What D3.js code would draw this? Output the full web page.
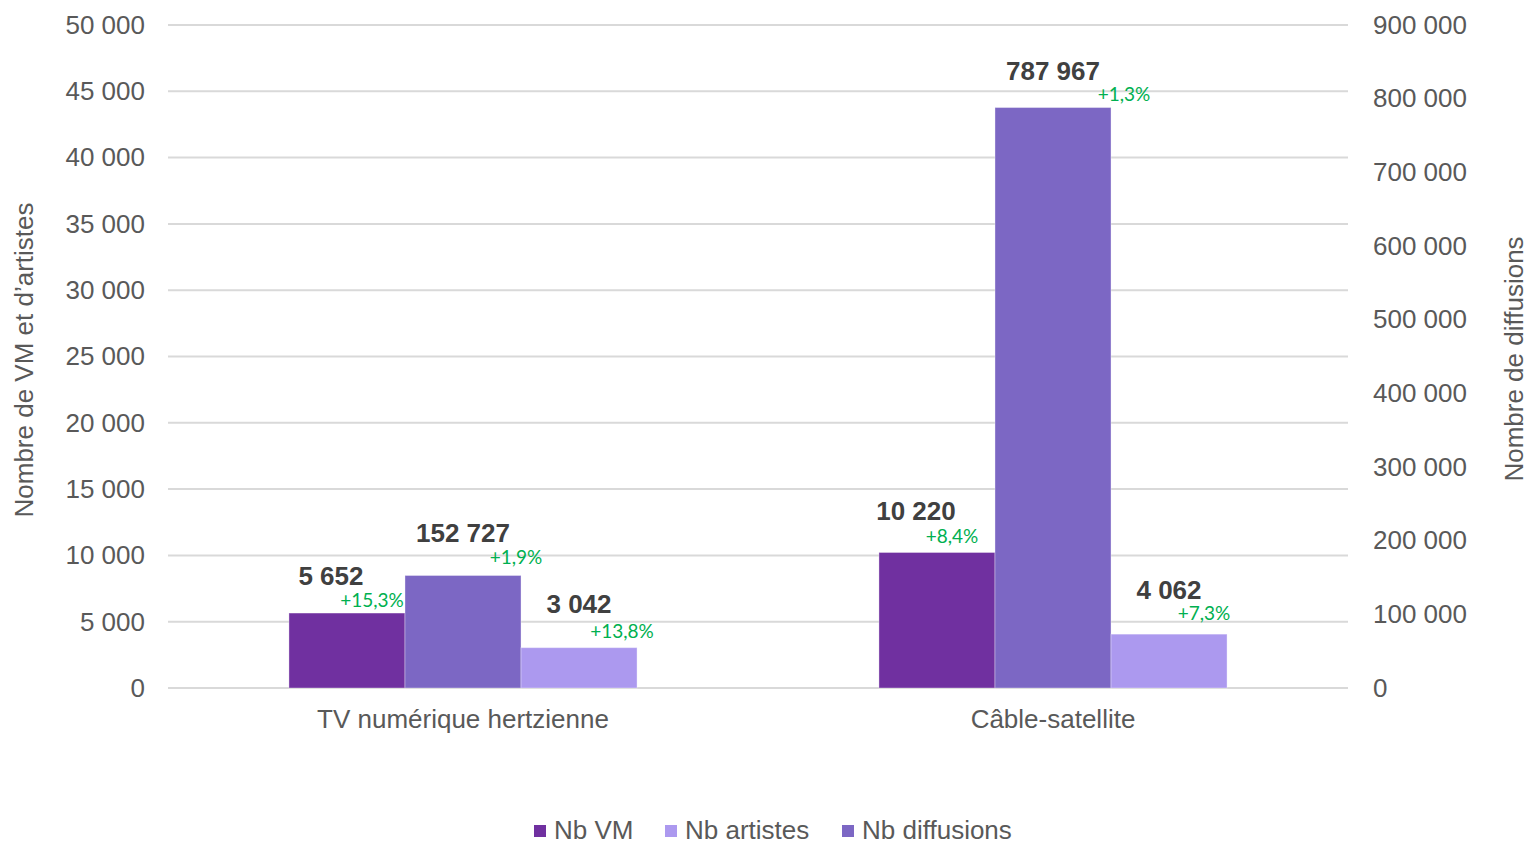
<!DOCTYPE html>
<html><head><meta charset="utf-8">
<script src="https://cdn.jsdelivr.net/npm/d3@7"></script>
<style>html,body{margin:0;padding:0;background:#fff}svg{display:block}</style>
</head><body><svg id="c" width="1529" height="847"></svg>
<script>
const categories = ["TV numérique hertzienne", "Câble-satellite"];
const nbVM = [5652, 10220];
const nbArtistes = [3042, 4062];
const nbDiffusions = [152727, 787967];
const evolVM = ["+15,3%", "+8,4%"];
const evolArtistes = ["+13,8%", "+7,3%"];
const evolDiffusions = ["+1,9%", "+1,3%"];
const leftTicks = [0, 5000, 10000, 15000, 20000, 25000, 30000, 35000, 40000, 45000, 50000];
const rightTicks = [0, 100000, 200000, 300000, 400000, 500000, 600000, 700000, 800000, 900000];
const legendNames = ["Nb VM", "Nb artistes", "Nb diffusions"];

const series = [
  {key: "Nb VM", values: nbVM, evol: evolVM, axis: "left", color: "#7030A0"},
  {key: "Nb diffusions", values: nbDiffusions, evol: evolDiffusions, axis: "right", color: "#7C67C4"},
  {key: "Nb artistes", values: nbArtistes, evol: evolArtistes, axis: "left", color: "#AC99EF"}
];
// manual label nudges (layout only): [valueDx, valueDy, evolDx, evolDy] per series per category
const nudges = {
  "Nb VM": [[-16, 4, 25, 3], [-21, -1, 15, 0]],
  "Nb diffusions": [[0, -2, 53, -2], [0, 4, 71, 3]],
  "Nb artistes": [[0, -3, 43, 0], [0, -3, 35, -5]]
};

const svg = d3.select("#c");
const L = 168, R = 1348, T = 25, B = 688;
const font = "'Liberation Sans', Arial, sans-serif";
const fr = d3.formatLocale({decimal: ",", thousands: "\u00a0", grouping: [3], currency: ["", "€"]});
const fmt = fr.format(",d");

const x0 = d3.scaleBand().domain(categories).range([L, R]).paddingInner(0.41).paddingOuter(0.205);
const x1 = d3.scaleBand().domain(series.map(s => s.key)).range([0, x0.bandwidth()]);
const yL = d3.scaleLinear().domain([0, 50000]).range([B, T]);
const yR = d3.scaleLinear().domain([0, 900000]).range([B, T]);

// gridlines
svg.append("g").selectAll("line").data(leftTicks).join("line")
  .attr("x1", L).attr("x2", R).attr("y1", d => yL(d)).attr("y2", d => yL(d))
  .attr("stroke", "#D9D9D9").attr("stroke-width", 2);

// left axis
const gl = svg.append("g").attr("transform", `translate(${L},0)`)
  .call(d3.axisLeft(yL).tickValues(leftTicks).tickFormat(fmt).tickSize(0).tickPadding(23));
gl.select(".domain").remove();
gl.selectAll("text").attr("font-family", font).attr("font-size", 26).attr("fill", "#595959");

// right axis
const gr = svg.append("g").attr("transform", `translate(${R},0)`)
  .call(d3.axisRight(yR).tickValues(rightTicks).tickFormat(fmt).tickSize(0).tickPadding(25));
gr.select(".domain").remove();
gr.selectAll("text").attr("font-family", font).attr("font-size", 26).attr("fill", "#595959");

// bars
const groups = svg.append("g").selectAll("g").data(categories).join("g")
  .attr("transform", d => `translate(${x0(d)},0)`);

groups.each(function(cat, ci) {
  const g = d3.select(this);
  series.forEach(s => {
    const y = s.axis === "left" ? yL : yR;
    const v = s.values[ci];
    const xb = x1(s.key), w = x1.bandwidth();
    g.append("rect").attr("x", xb).attr("y", y(v)).attr("width", w).attr("height", B - y(v))
      .attr("fill", s.color).attr("stroke", "#ffffff").attr("stroke-opacity", 0.35).attr("stroke-width", 1);
    const n = nudges[s.key][ci];
    g.append("text").attr("x", xb + w / 2 + n[0]).attr("y", y(v) - 41 + n[1])
      .attr("dy", "0.35em").attr("text-anchor", "middle")
      .attr("font-family", font).attr("font-size", 26).attr("font-weight", "bold").attr("fill", "#404040")
      .text(fmt(v));
    g.append("text").attr("x", xb + w / 2 + n[2]).attr("y", y(v) - 16 + n[3])
      .attr("dy", "0.35em").attr("text-anchor", "middle")
      .attr("font-family", "Lato, 'Open Sans', sans-serif").attr("font-size", 19).attr("fill", "#00B050")
      .text(s.evol[ci]);
  });
});

// category labels
svg.append("g").selectAll("text").data(categories).join("text")
  .attr("x", d => x0(d) + x0.bandwidth() / 2).attr("y", 719).attr("dy", "0.35em")
  .attr("text-anchor", "middle").attr("font-family", font).attr("font-size", 26).attr("fill", "#595959")
  .text(d => d);

// axis titles
svg.append("text").attr("transform", "translate(24,360) rotate(-90)").attr("dy", "0.35em")
  .attr("text-anchor", "middle").attr("font-family", font).attr("font-size", 26).attr("fill", "#595959")
  .text("Nombre de VM et d’artistes");
svg.append("text").attr("transform", "translate(1514,359) rotate(-90)").attr("dy", "0.35em")
  .attr("text-anchor", "middle").attr("font-family", font).attr("font-size", 26).attr("fill", "#595959")
  .text("Nombre de diffusions");

// legend
const colorOf = k => series.find(s => s.key === k).color;
const legX = [534, 665, 842];
const lg = svg.append("g").selectAll("g").data(legendNames).join("g")
  .attr("transform", (d, i) => `translate(${legX[i]},830)`);
lg.append("rect").attr("x", 0).attr("y", -5).attr("width", 12).attr("height", 12).attr("fill", d => colorOf(d));
lg.append("text").attr("x", 20).attr("y", 0).attr("dy", "0.35em")
  .attr("font-family", font).attr("font-size", 26).attr("fill", "#595959").text(d => d);
</script>
</body></html>
